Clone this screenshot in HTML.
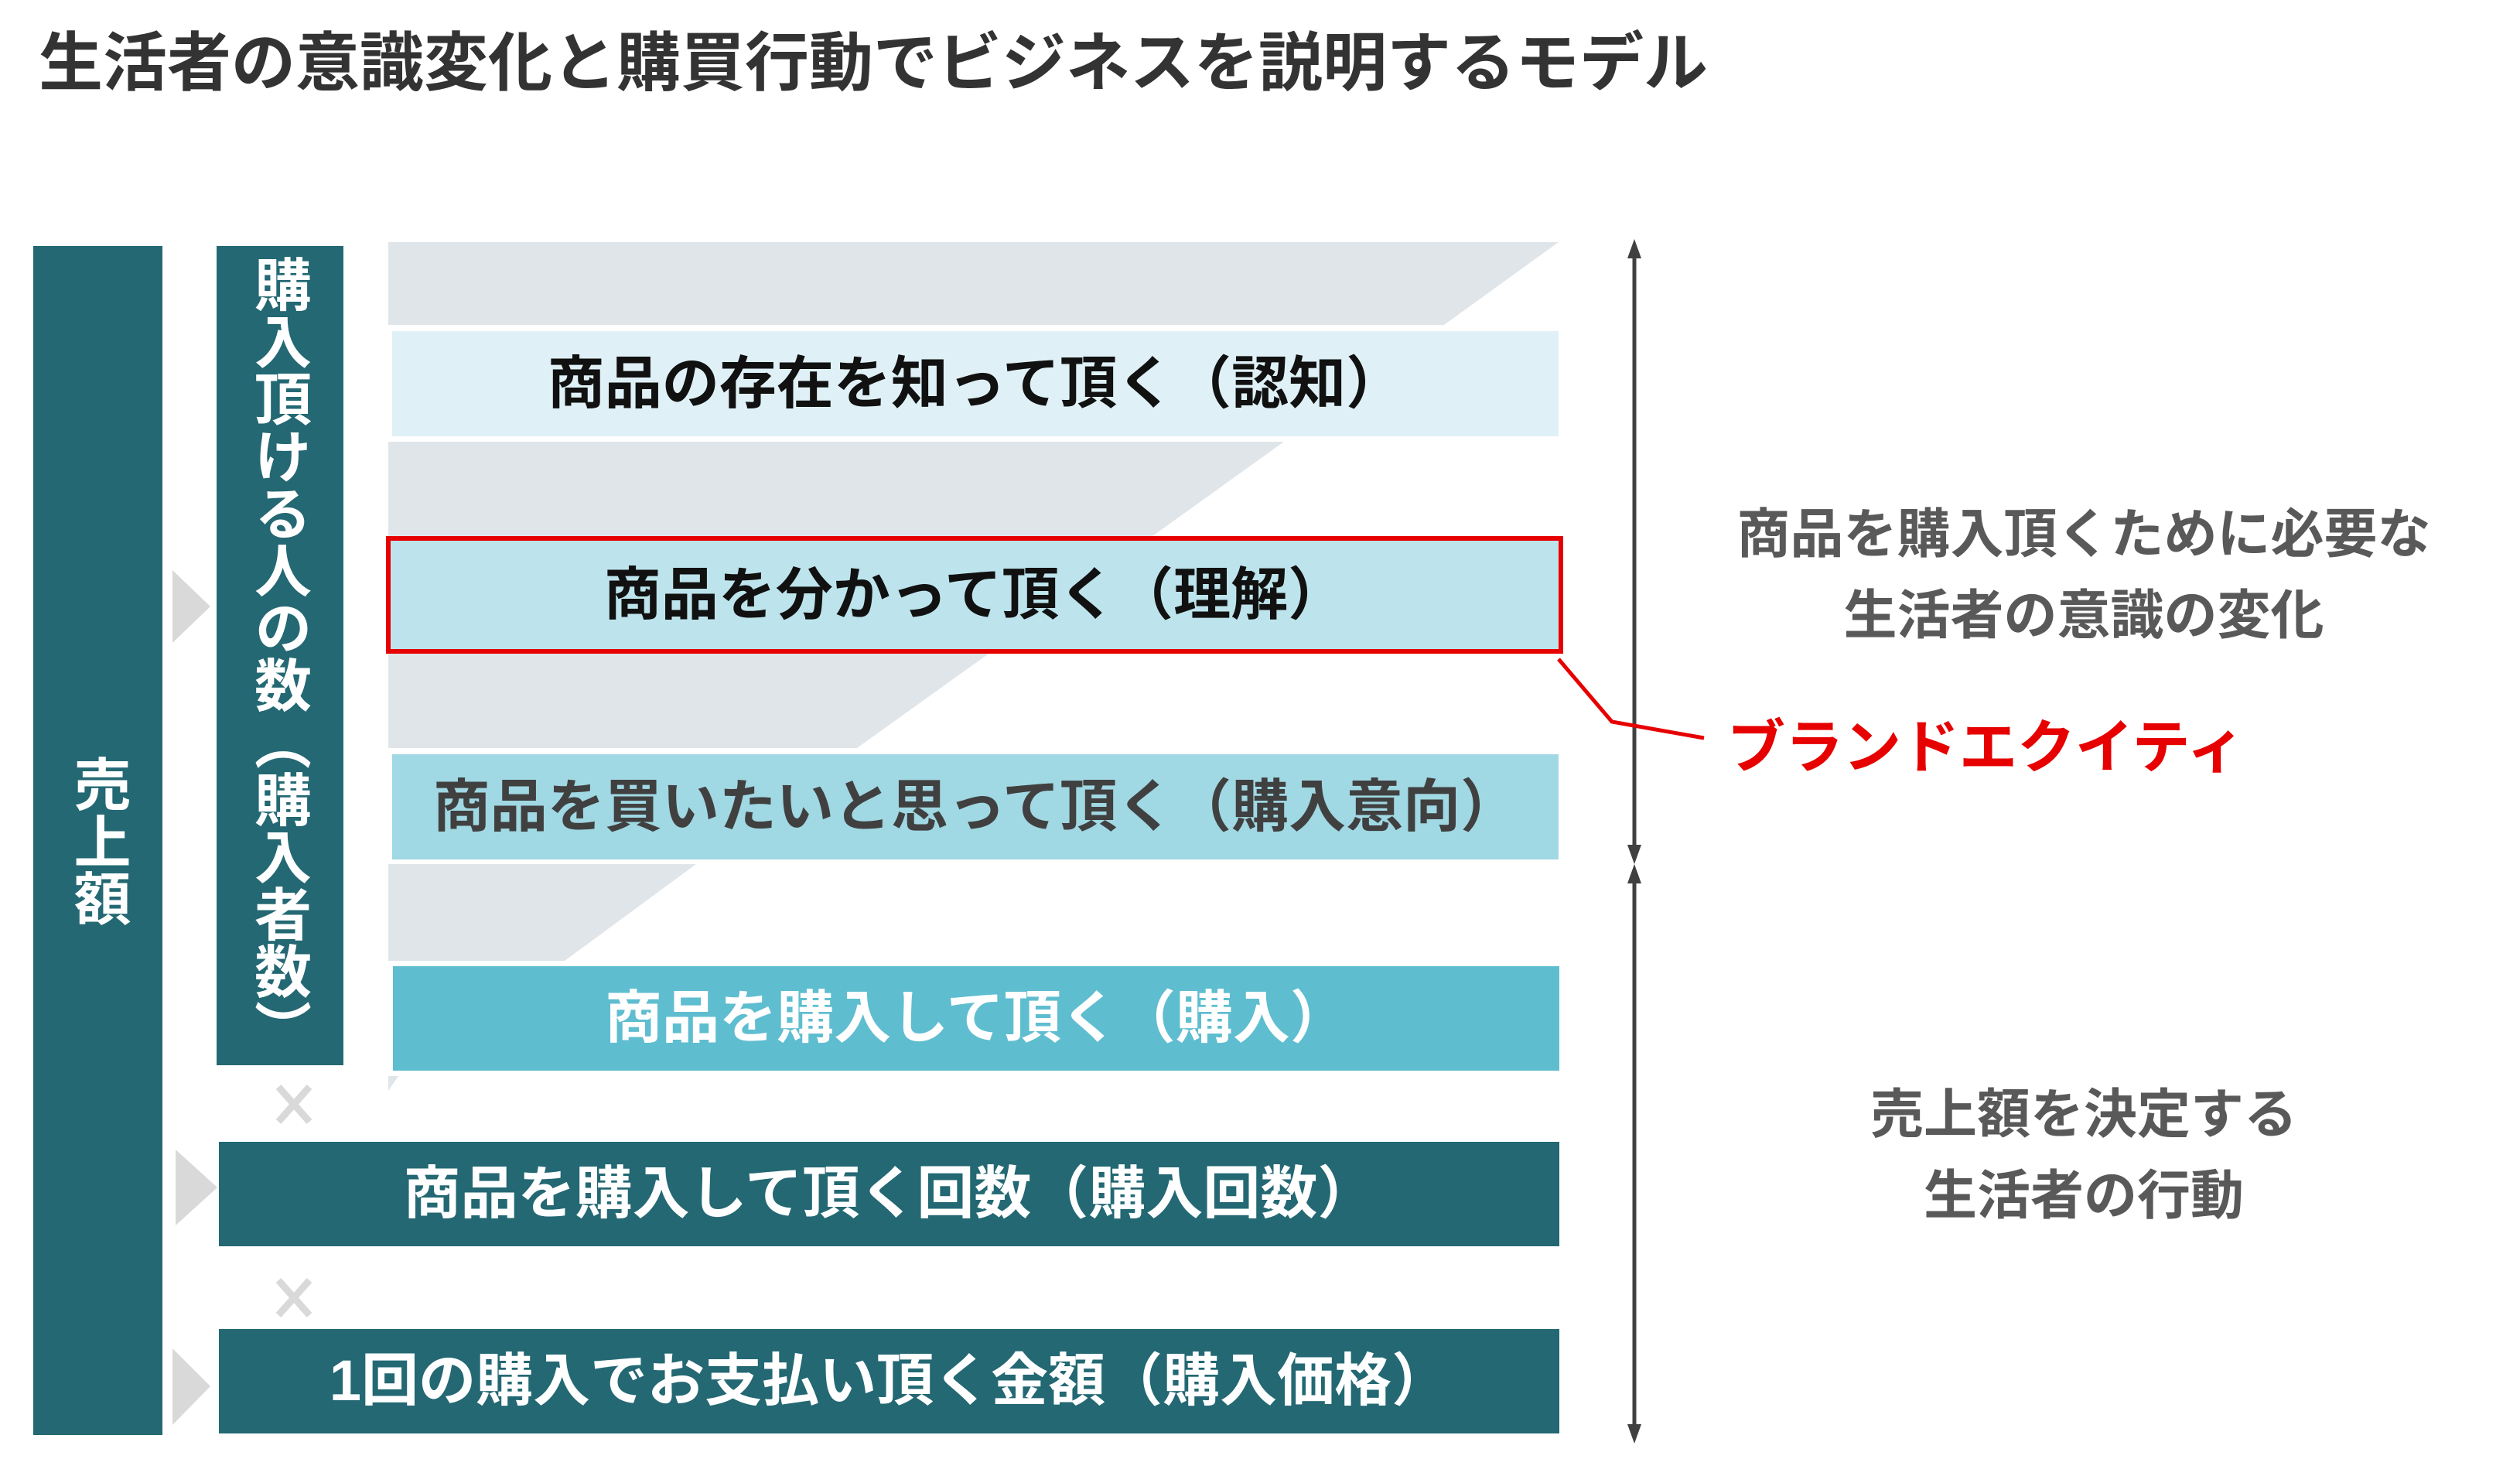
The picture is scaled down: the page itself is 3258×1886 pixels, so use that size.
<!DOCTYPE html>
<html><head><meta charset="utf-8"><style>
body{margin:0;width:3258px;height:1886px;background:#fff;position:relative;overflow:hidden;font-family:"Liberation Sans","Noto Sans CJK JP",sans-serif;font-weight:bold}
.a{position:absolute}
.bar{position:absolute;display:flex;align-items:center;justify-content:center;font-size:74px;white-space:nowrap;box-sizing:border-box;padding-bottom:14px}
.v{position:absolute;writing-mode:vertical-rl;color:#fff;font-size:70px;display:flex;align-items:center}
.r{position:absolute;text-align:center;color:#595959;font-size:69px;line-height:105px;width:1200px}
</style></head><body>
<div class="a" style="left:50px;top:14px;font-size:83px;color:#333;white-space:nowrap">生活者の意識変化と購買行動でビジネスを説明するモデル</div>
<svg class="a" style="left:0;top:0" width="3258" height="1886">
<polygon points="502,313 2015,313 1867,420 502,420" fill="#e0e5e9"/>
<polygon points="502,571 1660,571 1108,967 502,967" fill="#e0e5e9"/>
<polygon points="502,1117 900,1117 730,1242 502,1242" fill="#e0e5e9"/>
<polygon points="502,1391 515,1391 502,1410" fill="#e0e5e9"/>
<polygon points="223,737 272,784 223,831" fill="#d9d9d9"/>
<polygon points="227,1486 281,1535 227,1584" fill="#d9d9d9"/>
<polygon points="223,1743 272,1792 223,1842" fill="#d9d9d9"/>
<g stroke="#404040" stroke-width="5" fill="#404040">
<line x1="2113" y1="320" x2="2113" y2="1105"/>
<polygon points="2113,309 2104,334 2122,334" stroke="none"/>
<polygon points="2113,1117 2104,1092 2122,1092" stroke="none"/>
<line x1="2113" y1="1128" x2="2113" y2="1855"/>
<polygon points="2113,1117 2104,1142 2122,1142" stroke="none"/>
<polygon points="2113,1866 2104,1841 2122,1841" stroke="none"/>
</g>
<polyline points="2015,852 2084,933 2203,954" fill="none" stroke="#e60000" stroke-width="5"/>
<g stroke="#d9d9d9" stroke-width="9"><line x1="360" y1="1405" x2="400" y2="1450"/><line x1="400" y1="1405" x2="360" y2="1450"/>
<line x1="360" y1="1655" x2="400" y2="1700"/><line x1="400" y1="1655" x2="360" y2="1700"/></g>
</svg>
<div class="a" style="left:43px;top:318px;width:167px;height:1537px;background:#236873"></div>
<div class="v" style="left:43px;top:318px;width:167px;height:1537px;justify-content:center;font-size:74px">売上額</div>
<div class="a" style="left:280px;top:318px;width:164px;height:1059px;background:#236873"></div>
<div class="v" style="left:280px;top:330px;width:164px;height:1040px;justify-content:flex-start;font-size:74px;padding-right:4px;box-sizing:border-box">購入頂ける人の数（購入者数）</div>
<div class="bar" style="left:507px;top:428px;width:1508px;height:136px;background:#dff1f6;color:#111">商品の存在を知って頂く（認知）</div>
<div class="bar" style="left:505px;top:699px;width:1510px;height:140px;background:#bde4ec;color:#111;outline:6px solid #e60000">商品を分かって頂く（理解）</div>
<div class="bar" style="left:507px;top:975px;width:1508px;height:136px;background:#a0d8e3;color:#404040">商品を買いたいと思って頂く（購入意向）</div>
<div class="bar" style="left:508px;top:1249px;width:1508px;height:135px;background:#5fbdd0;color:#fff">商品を購入して頂く（購入）</div>
<div class="bar" style="left:283px;top:1476px;width:1733px;height:135px;background:#236873;color:#fff">商品を購入して頂く回数（購入回数）</div>
<div class="bar" style="left:283px;top:1718px;width:1733px;height:135px;background:#236873;color:#fff">1回の購入でお支払い頂く金額（購入価格）</div>
<div class="r" style="left:2094px;top:638px">商品を購入頂くために必要な<br>生活者の意識の変化</div>
<div class="r" style="left:2094px;top:1388px">売上額を決定する<br>生活者の行動</div>
<div class="a" style="left:2233px;top:905px;font-size:75px;color:#e60000;white-space:nowrap">ブランドエクイティ</div>
</body></html>
